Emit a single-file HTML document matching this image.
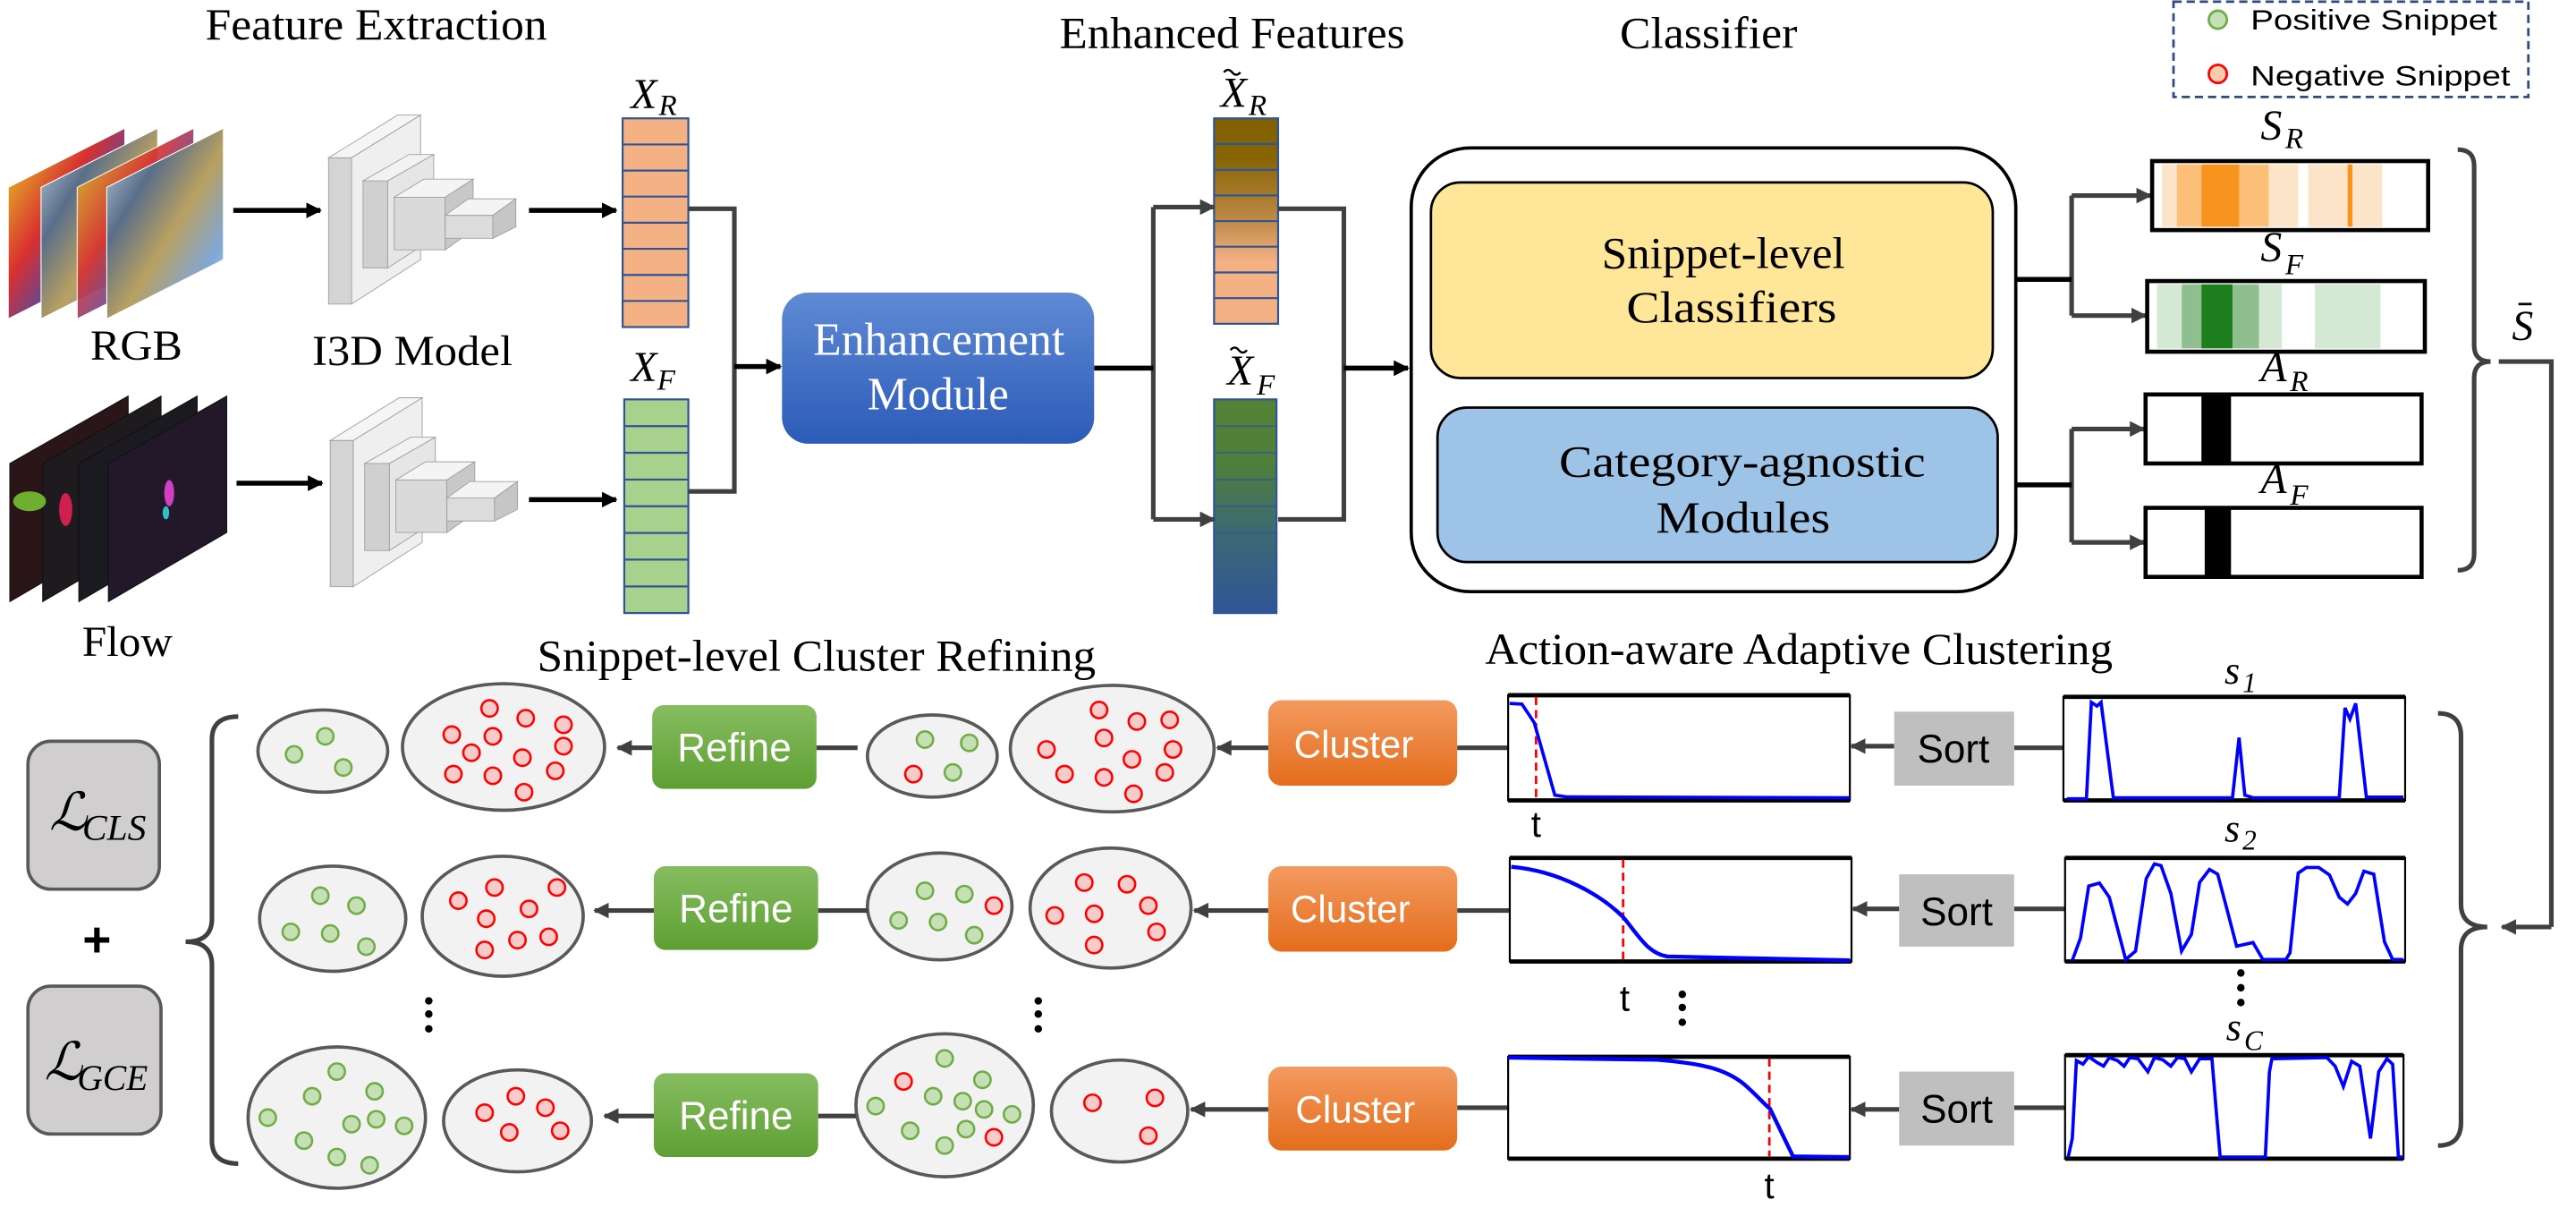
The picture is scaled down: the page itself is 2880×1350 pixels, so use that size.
<!DOCTYPE html>
<html><head><meta charset="utf-8"><style>html,body{margin:0;padding:0;background:#fff}svg{display:block}</style></head>
<body>
<svg xmlns="http://www.w3.org/2000/svg" width="2880" height="1350" viewBox="0 0 1568 735" preserveAspectRatio="none">
<defs>
<marker id="ab" viewBox="0 0 10 10" refX="9" refY="5" markerWidth="3.2" markerHeight="3.2" orient="auto"><path d="M0,0L10,5L0,10z" fill="#000"/></marker>
<marker id="ag" viewBox="0 0 10 10" refX="9" refY="5" markerWidth="3.4" markerHeight="3.4" orient="auto"><path d="M0,0L10,5L0,10z" fill="#404040"/></marker>
<linearGradient id="gEnh" x1="0" y1="0" x2="0" y2="1"><stop offset="0" stop-color="#5F8AD4"/><stop offset="1" stop-color="#2C5BB8"/></linearGradient>
<linearGradient id="gCl" x1="0" y1="0" x2="0" y2="1"><stop offset="0" stop-color="#F39A60"/><stop offset="1" stop-color="#E46D1C"/></linearGradient>
<linearGradient id="gRf" x1="0" y1="0" x2="0" y2="1"><stop offset="0" stop-color="#86BD60"/><stop offset="1" stop-color="#5E9F33"/></linearGradient>
<linearGradient id="gXR" x1="0" y1="0" x2="0" y2="1"><stop offset="0" stop-color="#7F6000"/><stop offset="0.2" stop-color="#876505"/><stop offset="0.5" stop-color="#C08A48"/><stop offset="0.7" stop-color="#F4B183"/><stop offset="1" stop-color="#F4B183"/></linearGradient>
<linearGradient id="gXF" x1="0" y1="0" x2="0" y2="1"><stop offset="0" stop-color="#548235"/><stop offset="0.3" stop-color="#4F7F3A"/><stop offset="0.6" stop-color="#3E6A70"/><stop offset="1" stop-color="#2F5597"/></linearGradient>
<linearGradient id="gRGB" x1="0" y1="0" x2="1" y2="1"><stop offset="0" stop-color="#C9D9E8"/><stop offset="0.3" stop-color="#5A6E8A"/><stop offset="0.55" stop-color="#B8A060"/><stop offset="0.8" stop-color="#7FA7D8"/><stop offset="1" stop-color="#CFE6F7"/></linearGradient>
<linearGradient id="gRGB0" x1="0" y1="0" x2="1" y2="1"><stop offset="0" stop-color="#E8E020"/><stop offset="0.4" stop-color="#D83030"/><stop offset="0.7" stop-color="#3050C0"/><stop offset="1" stop-color="#F0F0F0"/></linearGradient>
</defs>

<g font-family="Liberation Serif, serif" fill="#000">
<text x="125" y="24" font-size="27" textLength="208" lengthAdjust="spacingAndGlyphs">Feature Extraction</text>
<text x="645" y="29" font-size="27" textLength="210" lengthAdjust="spacingAndGlyphs">Enhanced Features</text>
<text x="986" y="29" font-size="27" textLength="108" lengthAdjust="spacingAndGlyphs">Classifier</text>
<text x="55" y="219" font-size="26" textLength="56" lengthAdjust="spacingAndGlyphs">RGB</text>
<text x="190" y="222" font-size="26" textLength="122" lengthAdjust="spacingAndGlyphs">I3D Model</text>
<text x="50" y="399" font-size="26" textLength="55" lengthAdjust="spacingAndGlyphs">Flow</text>
<text x="327" y="408" font-size="27" textLength="340" lengthAdjust="spacingAndGlyphs">Snippet-level Cluster Refining</text>
<text x="904" y="404" font-size="27" textLength="382" lengthAdjust="spacingAndGlyphs">Action-aware Adaptive Clustering</text>
</g>

<rect x="1323" y="1" width="216" height="58" fill="none" stroke="#2F4A80" stroke-width="1.5" stroke-dasharray="5,3"/>
<circle cx="1350" cy="12" r="5.5" fill="#C5E0B4" stroke="#70AD47" stroke-width="1.5"/>
<circle cx="1350" cy="45" r="5.5" fill="#F8CBAD" stroke="#FF0000" stroke-width="1.5"/>
<g font-family="Liberation Sans, sans-serif" font-size="17">
<text x="1370" y="18" textLength="150" lengthAdjust="spacingAndGlyphs">Positive Snippet</text>
<text x="1370" y="52" textLength="158" lengthAdjust="spacingAndGlyphs">Negative Snippet</text>
</g>

<g stroke="#fff" stroke-width="0.6">
<polygon points="5,114 76,78 76,158 5,194" fill="url(#gRGB0)"/>
<polygon points="25,114 96,78 96,158 25,194" fill="url(#gRGB)"/>
<polygon points="47,114 118,78 118,158 47,194" fill="url(#gRGB0)" opacity="0.9"/>
<polygon points="65,114 136,78 136,158 65,194" fill="url(#gRGB)"/>
</g>
<g stroke="#111" stroke-width="0.6">
<polygon points="6,282 78,241 78,324 6,366" fill="#2A1518"/>
<polygon points="26,282 98,241 98,324 26,366" fill="#1E1A1E"/>
<polygon points="48,282 120,241 120,324 48,366" fill="#1A1A20"/>
<polygon points="66,282 138,241 138,324 66,366" fill="#22182A"/>
</g>
<ellipse cx="18" cy="305" rx="10" ry="6" fill="#6FAF30"/>
<ellipse cx="40" cy="310" rx="4" ry="10" fill="#D02050"/>
<ellipse cx="103" cy="300" rx="3" ry="8" fill="#D040C0"/>
<ellipse cx="101" cy="312" rx="2" ry="4" fill="#30C0C0"/>

<g id="i3d" stroke="#A0A0A0" stroke-width="0.5">
<polygon points="214,96 256,70 256,158 214,185" fill="#EFEFEF"/>
<polygon points="200,96 214,96 214,185 200,185" fill="#D4D4D4"/>
<polygon points="200,96 242,70 256,70 214,96" fill="#F5F5F5"/>
<polygon points="236,110 264,94 264,145 236,163" fill="#E6E6E6"/>
<polygon points="221,110 236,110 236,163 221,163" fill="#D0D0D0"/>
<polygon points="221,110 249,94 264,94 236,110" fill="#F2F2F2"/>
<polygon points="240,120 271,120 271,152 240,152" fill="#DADADA"/>
<polygon points="240,120 258,109 288,109 271,120" fill="#F4F4F4"/>
<polygon points="271,120 288,109 288,140 271,152" fill="#C8C8C8"/>
<polygon points="271,131 300,131 300,145 271,145" fill="#DCDCDC"/>
<polygon points="271,131 285,121 314,121 300,131" fill="#F4F4F4"/>
<polygon points="300,131 314,121 314,138 300,145" fill="#C6C6C6"/>
</g>
<use href="#i3d" transform="translate(1,172)"/>

<g stroke="#000" stroke-width="3" marker-end="url(#ab)">
<line x1="142" y1="128" x2="195" y2="128"/>
<line x1="322" y1="128" x2="375" y2="128"/>
<line x1="144" y1="294" x2="196" y2="294"/>
<line x1="322" y1="304" x2="375" y2="304"/>
</g>

<g stroke="#2F5597" stroke-width="1.2">
<rect x="379" y="72" width="40" height="127" fill="#F4B183"/>
<rect x="380" y="243" width="39" height="130" fill="#A9D18E"/>
<rect x="739" y="72" width="39" height="125" fill="url(#gXR)"/>
<rect x="739" y="243" width="38" height="130" fill="url(#gXF)"/>
</g>
<g stroke="#2F5597" stroke-width="1.2">
<path d="M379,87.9H419M379,103.8H419M379,119.6H419M379,135.5H419M379,151.4H419M379,167.3H419M379,183.1H419"/>
<path d="M380,259.3H419M380,275.5H419M380,291.8H419M380,308H419M380,324.3H419M380,340.5H419M380,356.8H419"/>
<path d="M739,87.6H778M739,103.3H778M739,118.9H778M739,134.5H778M739,150.1H778M739,165.8H778M739,181.4H778"/>
<path d="M739,259.3H777M739,275.5H777M739,291.8H777M739,308H777M739,324.3H777" stroke-opacity="0.6"/>
</g>

<g font-family="Liberation Serif, serif" font-style="italic">
<text x="384" y="66" font-size="26">X</text><text x="401" y="70" font-size="18">R</text>
<text x="384" y="232" font-size="26">X</text><text x="400" y="237" font-size="18">F</text>
<text x="743" y="65" font-size="26">X</text><text x="760" y="70" font-size="18">R</text>
<text x="747" y="234" font-size="26">X</text><text x="765" y="240" font-size="18">F</text>
<text x="1376" y="85" font-size="26">S</text><text x="1391" y="90" font-size="18">R</text>
<text x="1376" y="159" font-size="26">S</text><text x="1391" y="167" font-size="18">F</text>
<text x="1376" y="232" font-size="26">A</text><text x="1394" y="238" font-size="18">R</text>
<text x="1376" y="300" font-size="26">A</text><text x="1394" y="307" font-size="18">F</text>
<text x="1529" y="207" font-size="26">S</text>
<text x="1354" y="416" font-size="24">s</text><text x="1365" y="421" font-size="17">1</text>
<text x="1354" y="512" font-size="24">s</text><text x="1365" y="517" font-size="17">2</text>
<text x="1355" y="633" font-size="24">s</text><text x="1366" y="639" font-size="17">C</text>
</g>
<path d="M745,44 q2.5,-3 5,0 t5,0" fill="none" stroke="#000" stroke-width="1.3"/>
<path d="M749,213 q2.5,-3 5,0 t5,0" fill="none" stroke="#000" stroke-width="1.3"/>
<line x1="1533" y1="185" x2="1541" y2="185" stroke="#000" stroke-width="1.5"/>

<g fill="none" stroke="#404040" stroke-width="2.8">
<polyline points="419,127 447,127 447,299 419,299"/>
<polyline points="702,126 702,316"/>
<line x1="702" y1="126" x2="739" y2="126" marker-end="url(#ag)"/>
<line x1="702" y1="316" x2="739" y2="316" marker-end="url(#ag)"/>
<polyline points="778,127 818,127 818,316 778,316"/>
<polyline points="1261,119 1261,192"/>
<line x1="1261" y1="119" x2="1309" y2="119" marker-end="url(#ag)"/>
<line x1="1261" y1="192" x2="1306" y2="192" marker-end="url(#ag)"/>
<polyline points="1261,261 1261,330"/>
<line x1="1261" y1="261" x2="1305" y2="261" marker-end="url(#ag)"/>
<line x1="1261" y1="330" x2="1305" y2="330" marker-end="url(#ag)"/>
<polyline points="1521,220 1553,220 1553,564"/>
<line x1="1553" y1="564" x2="1523" y2="564" marker-end="url(#ag)"/>
</g>
<g stroke="#000" stroke-width="3">
<line x1="447" y1="223" x2="475" y2="223" marker-end="url(#ab)"/>
<line x1="818" y1="224" x2="857" y2="224" marker-end="url(#ab)"/>
<line x1="666" y1="224" x2="702" y2="224"/>
<line x1="1213" y1="170" x2="1261" y2="170"/>
<line x1="1216" y1="295" x2="1261" y2="295"/>
</g>

<rect x="476" y="178" width="190" height="92" rx="16" fill="url(#gEnh)"/>
<g font-family="Liberation Serif, serif" font-size="28" fill="#fff">
<text x="495" y="216" textLength="153" lengthAdjust="spacingAndGlyphs">Enhancement</text>
<text x="528" y="249" textLength="86" lengthAdjust="spacingAndGlyphs">Module</text>
</g>

<rect x="859" y="90" width="368" height="270" rx="36" fill="#fff" stroke="#000" stroke-width="2"/>
<rect x="871" y="111" width="342" height="119" rx="18" fill="#FFE699" stroke="#000" stroke-width="1.5"/>
<rect x="875" y="248" width="341" height="94" rx="18" fill="#9DC3E6" stroke="#000" stroke-width="1.5"/>
<g font-family="Liberation Serif, serif" font-size="27">
<text x="975" y="163" textLength="148" lengthAdjust="spacingAndGlyphs">Snippet-level</text>
<text x="990" y="196" textLength="128" lengthAdjust="spacingAndGlyphs">Classifiers</text>
<text x="949" y="290" textLength="223" lengthAdjust="spacingAndGlyphs">Category-agnostic</text>
<text x="1008" y="324" textLength="106" lengthAdjust="spacingAndGlyphs">Modules</text>
</g>

<g>
<rect x="1310" y="98" width="168" height="42" fill="#fff"/>
<rect x="1316" y="100" width="9" height="38" fill="#FCE4C8"/>
<rect x="1325" y="100" width="15" height="38" fill="#FBBF78"/>
<rect x="1340" y="100" width="23" height="38" fill="#F7941D"/>
<rect x="1363" y="100" width="18" height="38" fill="#FBBF78"/>
<rect x="1381" y="100" width="18" height="38" fill="#FCE4C8"/>
<rect x="1405" y="100" width="24" height="38" fill="#FCE4C8"/>
<rect x="1429" y="100" width="3" height="38" fill="#F7941D"/>
<rect x="1432" y="100" width="18" height="38" fill="#FCE4C8"/>
<rect x="1310" y="98" width="168" height="42" fill="none" stroke="#000" stroke-width="2.5"/>
<rect x="1307" y="171" width="169" height="43" fill="#fff"/>
<rect x="1313" y="173" width="15" height="39" fill="#D5E8D4"/>
<rect x="1328" y="173" width="12" height="39" fill="#8FBF8F"/>
<rect x="1340" y="173" width="19" height="39" fill="#1E7E1E"/>
<rect x="1359" y="173" width="16" height="39" fill="#8FBF8F"/>
<rect x="1375" y="173" width="14" height="39" fill="#D5E8D4"/>
<rect x="1409" y="173" width="40" height="39" fill="#D5E8D4"/>
<rect x="1307" y="171" width="169" height="43" fill="none" stroke="#000" stroke-width="2.5"/>
<rect x="1306" y="240" width="168" height="42" fill="#fff" stroke="#000" stroke-width="2.5"/>
<rect x="1340" y="240" width="18" height="42" fill="#000"/>
<rect x="1306" y="309" width="168" height="42" fill="#fff" stroke="#000" stroke-width="2.5"/>
<rect x="1342" y="309" width="16" height="42" fill="#000"/>
</g>

<g fill="none" stroke="#404040" stroke-width="2.8">
<path d="M1496,91 Q1506,91 1506,101 L1506,210 Q1506,220 1516,220 Q1506,220 1506,230 L1506,337 Q1506,347 1496,347"/>
<path d="M1484,434 Q1498,434 1498,448 L1498,550 Q1498,564 1514,564 Q1498,564 1498,578 L1498,683 Q1498,697 1484,697"/>
<path d="M145,436 Q129,436 129,450 L129,559 Q129,573 113,573 Q129,573 129,587 L129,694 Q129,708 145,708"/>
</g>

<rect x="17" y="451" width="80" height="90" rx="14" fill="#D0CECE" stroke="#595959" stroke-width="2"/>
<rect x="17" y="600" width="81" height="90" rx="14" fill="#D0CECE" stroke="#595959" stroke-width="2"/>
<g font-family="Liberation Serif, DejaVu Serif, serif" font-style="italic">
<text x="30" y="505" font-size="32">ℒ</text><text x="50" y="511" font-size="22" textLength="39" lengthAdjust="spacingAndGlyphs">CLS</text>
<text x="27" y="657" font-size="32">ℒ</text><text x="47" y="663" font-size="22" textLength="43" lengthAdjust="spacingAndGlyphs">GCE</text>
</g>
<text x="59" y="582" font-family="Liberation Sans, sans-serif" font-size="30" font-weight="bold" text-anchor="middle">+</text>

<g fill="#F2F2F2" stroke="#595959" stroke-width="2">
<ellipse cx="196.5" cy="457" rx="39.5" ry="25"/>
<ellipse cx="306.5" cy="454.5" rx="61.5" ry="38.5"/>
<ellipse cx="567.5" cy="460" rx="39.5" ry="25"/>
<ellipse cx="677" cy="455.5" rx="62" ry="38.5"/>
<ellipse cx="202.5" cy="559" rx="44.5" ry="32"/>
<ellipse cx="306" cy="557.5" rx="49" ry="36.5"/>
<ellipse cx="572" cy="551.5" rx="44" ry="32.5"/>
<ellipse cx="676" cy="552.5" rx="49" ry="36.5"/>
<ellipse cx="205" cy="680" rx="54" ry="43"/>
<ellipse cx="315" cy="682" rx="45" ry="31"/>
<ellipse cx="575" cy="672.5" rx="54" ry="43.5"/>
<ellipse cx="681.5" cy="676" rx="41.5" ry="31"/>
</g>
<g fill="#C5E0B4" stroke="#70AD47" stroke-width="1.4">
<circle cx="198" cy="448" r="5"/><circle cx="179" cy="459" r="5"/><circle cx="209" cy="467" r="5"/>
<circle cx="563" cy="450" r="5"/><circle cx="590" cy="452" r="5"/><circle cx="580" cy="470" r="5"/>
<circle cx="195" cy="545" r="5"/><circle cx="217" cy="551" r="5"/><circle cx="177" cy="567" r="5"/><circle cx="201" cy="568" r="5"/><circle cx="223" cy="576" r="5"/>
<circle cx="563" cy="542" r="5"/><circle cx="587" cy="544" r="5"/><circle cx="547" cy="560" r="5"/><circle cx="571" cy="561" r="5"/><circle cx="593" cy="569" r="5"/>
<circle cx="205" cy="652" r="5"/><circle cx="190" cy="667" r="5"/><circle cx="228" cy="664" r="5"/><circle cx="163" cy="680" r="5"/><circle cx="214" cy="684" r="5"/><circle cx="229" cy="681" r="5"/><circle cx="246" cy="685" r="5"/><circle cx="185" cy="694" r="5"/><circle cx="205" cy="704" r="5"/><circle cx="225" cy="709" r="5"/>
<circle cx="575" cy="644" r="5"/><circle cx="598" cy="657" r="5"/><circle cx="568" cy="667" r="5"/><circle cx="586" cy="670" r="5"/><circle cx="599" cy="675" r="5"/><circle cx="616" cy="678" r="5"/><circle cx="533" cy="673" r="5"/><circle cx="554" cy="688" r="5"/><circle cx="588" cy="687" r="5"/><circle cx="575" cy="697" r="5"/>
</g>
<g fill="#F8CBCB" stroke="#FF0000" stroke-width="1.4">
<circle cx="298" cy="431" r="5"/><circle cx="320" cy="437" r="5"/><circle cx="343" cy="441" r="5"/><circle cx="275" cy="447" r="5"/><circle cx="300" cy="448" r="5"/><circle cx="343" cy="454" r="5"/><circle cx="287" cy="458" r="5"/><circle cx="318" cy="461" r="5"/><circle cx="276" cy="471" r="5"/><circle cx="300" cy="472" r="5"/><circle cx="338" cy="469" r="5"/><circle cx="319" cy="482" r="5"/>
<circle cx="556" cy="471" r="5"/>
<circle cx="669" cy="432" r="5"/><circle cx="692" cy="439" r="5"/><circle cx="712" cy="438" r="5"/><circle cx="672" cy="449" r="5"/><circle cx="637" cy="456" r="5"/><circle cx="714" cy="456" r="5"/><circle cx="689" cy="462" r="5"/><circle cx="648" cy="471" r="5"/><circle cx="672" cy="473" r="5"/><circle cx="709" cy="470" r="5"/><circle cx="690" cy="483" r="5"/>
<circle cx="301" cy="540" r="5"/><circle cx="339" cy="540" r="5"/><circle cx="279" cy="548" r="5"/><circle cx="322" cy="553" r="5"/><circle cx="296" cy="559" r="5"/><circle cx="315" cy="572" r="5"/><circle cx="334" cy="570" r="5"/><circle cx="295" cy="578" r="5"/>
<circle cx="605" cy="551" r="5"/>
<circle cx="660" cy="537" r="5"/><circle cx="686" cy="538" r="5"/><circle cx="699" cy="551" r="5"/><circle cx="642" cy="557" r="5"/><circle cx="666" cy="556" r="5"/><circle cx="704" cy="567" r="5"/><circle cx="666" cy="575" r="5"/>
<circle cx="314" cy="667" r="5"/><circle cx="295" cy="677" r="5"/><circle cx="332" cy="674" r="5"/><circle cx="310" cy="689" r="5"/><circle cx="341" cy="688" r="5"/>
<circle cx="550" cy="658" r="5"/><circle cx="605" cy="692" r="5"/>
<circle cx="665" cy="671" r="5"/><circle cx="703" cy="668" r="5"/><circle cx="699" cy="691" r="5"/>
</g>

<g fill="#000">
<circle cx="261" cy="609" r="2.3"/><circle cx="261" cy="617" r="2.3"/><circle cx="261" cy="626" r="2.3"/>
<circle cx="632" cy="609" r="2.3"/><circle cx="632" cy="617" r="2.3"/><circle cx="632" cy="626" r="2.3"/>
<circle cx="1024" cy="605" r="2.3"/><circle cx="1024" cy="613" r="2.3"/><circle cx="1024" cy="622" r="2.3"/>
<circle cx="1364" cy="592" r="2.3"/><circle cx="1364" cy="601" r="2.3"/><circle cx="1364" cy="610" r="2.3"/>
</g>

<g fill="none" stroke="#404040" stroke-width="2.8">
<line x1="397" y1="455" x2="376" y2="455" marker-end="url(#ag)"/>
<line x1="497" y1="455" x2="522" y2="455"/>
<line x1="772" y1="455" x2="741" y2="455" marker-end="url(#ag)"/>
<line x1="887" y1="455" x2="918" y2="455"/>
<line x1="1153" y1="454" x2="1127" y2="454" marker-end="url(#ag)"/>
<line x1="1226" y1="455" x2="1256" y2="455"/>
<line x1="398" y1="554" x2="362" y2="554" marker-end="url(#ag)"/>
<line x1="498" y1="554" x2="528" y2="554"/>
<line x1="772" y1="554" x2="727" y2="554" marker-end="url(#ag)"/>
<line x1="887" y1="554" x2="919" y2="554"/>
<line x1="1156" y1="553" x2="1128" y2="553" marker-end="url(#ag)"/>
<line x1="1226" y1="553" x2="1257" y2="553"/>
<line x1="398" y1="679" x2="368" y2="679" marker-end="url(#ag)"/>
<line x1="498" y1="679" x2="521" y2="679"/>
<line x1="772" y1="675" x2="725" y2="675" marker-end="url(#ag)"/>
<line x1="887" y1="674" x2="918" y2="674"/>
<line x1="1156" y1="675" x2="1127" y2="675" marker-end="url(#ag)"/>
<line x1="1226" y1="674" x2="1257" y2="674"/>
</g>

<g fill="url(#gRf)">
<rect x="397" y="429" width="100" height="51" rx="7"/>
<rect x="398" y="527" width="100" height="51" rx="7"/>
<rect x="398" y="653" width="100" height="51" rx="7"/>
</g>
<g font-family="Liberation Sans, sans-serif" font-size="24" fill="#fff" text-anchor="middle">
<text x="447" y="463">Refine</text>
<text x="448" y="561">Refine</text>
<text x="448" y="687">Refine</text>
</g>
<g fill="url(#gCl)">
<rect x="772" y="426" width="115" height="52" rx="8"/>
<rect x="772" y="527" width="115" height="52" rx="8"/>
<rect x="772" y="649" width="115" height="51" rx="8"/>
</g>
<g font-family="Liberation Sans, sans-serif" font-size="23" fill="#fff" text-anchor="middle">
<text x="824" y="461">Cluster</text>
<text x="822" y="561">Cluster</text>
<text x="825" y="683">Cluster</text>
</g>
<g fill="#BFBFBF">
<rect x="1153" y="433" width="73" height="45"/>
<rect x="1156" y="532" width="70" height="44"/>
<rect x="1156" y="652" width="70" height="45"/>
</g>
<g font-family="Liberation Sans, sans-serif" font-size="24" fill="#000" text-anchor="middle">
<text x="1189" y="464">Sort</text>
<text x="1191" y="563">Sort</text>
<text x="1191" y="683">Sort</text>
</g>

<g fill="#fff" stroke="#000" stroke-width="1.2">
<rect x="918" y="423" width="208" height="64"/>
<rect x="919" y="522" width="208" height="63"/>
<rect x="918" y="643" width="208" height="62"/>
<rect x="1256" y="424" width="208" height="63"/>
<rect x="1257" y="522" width="207" height="63"/>
<rect x="1257" y="642" width="206" height="63"/>
</g>
<g stroke="#000" stroke-width="2.6">
<path d="M918,423H1126M918,487H1126M919,522H1127M919,585H1127M918,643H1126M918,705H1126"/>
<path d="M1256,424H1464M1256,487H1464M1257,522H1464M1257,585H1464M1257,642H1463M1257,705H1463"/>
</g>
<g stroke="#FF0000" stroke-width="1.5" stroke-dasharray="5,3">
<line x1="935" y1="424" x2="935" y2="486"/>
<line x1="988" y1="523" x2="988" y2="584"/>
<line x1="1077" y1="644" x2="1077" y2="704"/>
</g>
<g fill="none" stroke="#0000FF" stroke-width="2">
<polyline points="918.9,428 926.4,428.4 933.9,439.7 946.4,483.8 953.9,484.9 1125.9,485.4"/>
<path d="M919.9,527.4 C950,530 975,545 988,558 C998,570 1003,580 1015,582 L1126,584.3" stroke-width="2.4"/>
<path d="M917.9,643.5 L1008.9,644.8 C1035,647 1050,650 1062,660 C1070,667 1074,672 1077.4,674.6 L1091.4,703.6 L1125.4,704" stroke-width="2.4"/>
<polyline points="1258,486 1270,486 1273,427.3 1276.4,429.6 1278.9,427.3 1286.4,485.4 1358.9,485.4 1362.9,448.8 1366.4,483.8 1371.4,485.4 1423.9,485.4 1427.4,430.7 1430.4,437.5 1433.9,428 1440.4,485 1462.9,485"/>
<polyline points="1261.4,584.3 1266.4,570.7 1271.4,539.1 1277.9,537.3 1283.9,545.9 1293.9,583.8 1299.9,578.7 1306.4,534.6 1311.4,525.6 1315.4,526.7 1321.4,543.6 1327.9,578.7 1333.9,568.5 1338.9,536.9 1344.9,529 1349.9,531.9 1355.4,552.7 1361.4,575.7 1371.4,573.5 1377.4,583.8 1391.4,583.8 1393.9,579.8 1398.9,531.2 1403.9,527.8 1411.4,527.8 1417.9,532.3 1423.9,545.9 1428.9,550 1433.9,543.6 1438.9,530.1 1444.9,531.9 1451.4,573 1456.4,583.8 1462.9,583.8"/>
<polyline points="1258.9,704 1261.4,692.7 1263.9,645.3 1267.9,647.5 1271.4,643 1276.4,646.4 1280.4,648.7 1283.9,643.5 1288.9,645.3 1292.9,648.7 1296.4,643.5 1301.4,644.2 1307.4,652.1 1311.4,643.5 1316.4,644.8 1321.4,648.7 1325.4,643.5 1329.9,644.2 1333.9,652.1 1338.9,644.2 1346.4,644.2 1348.9,674.6 1351.4,704 1378.9,704 1381.4,652.1 1382.9,644.2 1416.4,643.5 1421.4,648.7 1426.4,661.1 1431.4,645.7 1436.4,648.7 1442.9,692.7 1447.9,652.1 1452.9,644.2 1456.4,647.5 1459.9,704 1462.9,704"/>
</g>
<g font-family="Liberation Sans, sans-serif" font-size="22" text-anchor="middle">
<text x="935" y="509">t</text>
<text x="989" y="615">t</text>
<text x="1077" y="729">t</text>
</g>
</svg>
</body></html>
